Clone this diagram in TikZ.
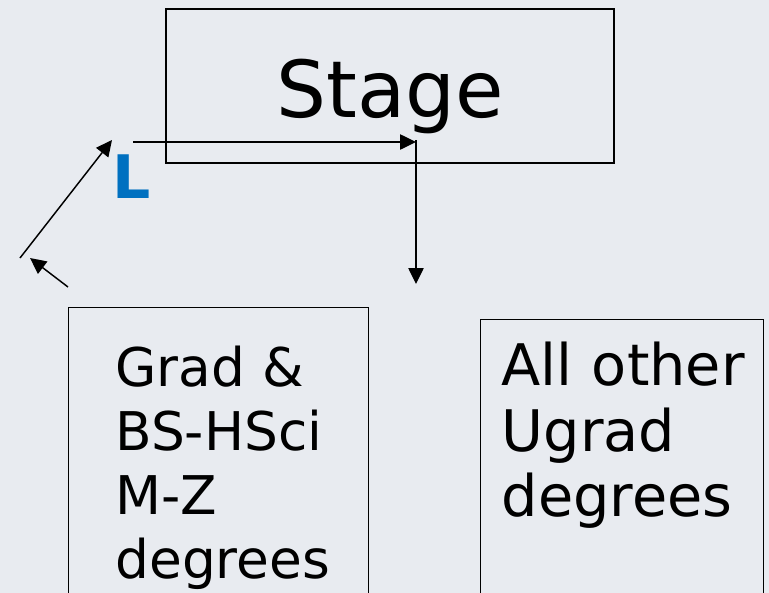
\documentclass[tikz,border=0pt]{standalone}
\usepackage{fontspec}
\setmainfont{DejaVu Sans}
\usetikzlibrary{arrows.meta}
\definecolor{slidebg}{RGB}{232,235,240}
\definecolor{lblue}{RGB}{0,112,192}
\tikzset{%
  flowarrow/.style = {-{Triangle[length=12pt,width=11.5pt]},line width=1.1pt},
  stagebox/.style = {rectangle,draw,line width=1.1pt,minimum width=336pt,
        minimum height=115.5pt,font=\fontsize{59}{70}\selectfont,
        text height=46.5pt,text depth=0pt},
  degbox/.style = {rectangle,draw,line width=1.1pt,anchor=north west,
        align=left}
}
\begin{document}
\begin{tikzpicture}[x=0.75pt,y=-0.75pt]
\fill[slidebg] (0,0) rectangle (769,593);
\useasboundingbox (0,0) rectangle (769,593);
\node[stagebox] (stage) at (390,86) {Stage};
\node[degbox,font=\fontsize{40}{48}\selectfont,inner xsep=35pt,
      inner ysep=30pt,text width=155pt,text height=29pt,
      text depth=200pt] (grad) at (68,307)
      {Grad \&\\\mbox{BS-HSci}\\M-Z\\degrees};
\node[degbox,font=\fontsize{43}{49}\selectfont,inner xsep=15.75pt,
      inner ysep=18pt,text width=180.75pt,text height=31.5pt,
      text depth=230pt] (other) at (480,319)
      {All~other\\Ugrad\\degrees};
\node[anchor=base west,inner sep=0pt,text=lblue,
      font=\fontsize{45}{50}\selectfont\bfseries] (lbl) at (112.5,198) {L};
\coordinate (hstart) at (133,142);
\coordinate (hend) at (416,142);
\coordinate (vstart) at (416,140);
\coordinate (vend) at (416,284);
\coordinate (dstart) at (20,258);
\coordinate (dend) at (112,140);
\coordinate (sstart) at (68,287);
\coordinate (send) at (30,258);
\draw[flowarrow] (hstart) -- (hend);
\draw[flowarrow] (vstart) -- (vend);
\draw[flowarrow] (dstart) -- (dend);
\draw[flowarrow] (sstart) -- (send);
\end{tikzpicture}
\end{document}
